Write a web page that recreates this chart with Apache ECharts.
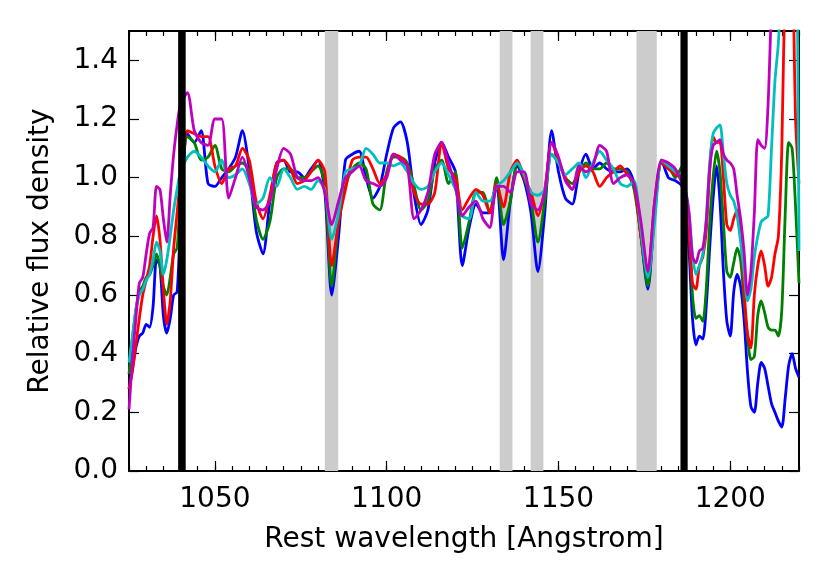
<!DOCTYPE html>
<html>
<head>
    <meta charset="utf-8">
    <style>
        html, body { margin: 0; padding: 0; background: #ffffff; }
        #chart { width: 830px; height: 581px; }
    </style>
    <script src="https://cdn.jsdelivr.net/npm/echarts@6.0.0/dist/echarts.min.js"></script>
</head>
<body>
    <div id="chart"></div>
    <script type="text/javascript">
        // rest wavelength grid (Angstrom)
        var wavelength = [
            1025, 1026, 1027, 1028, 1029, 1030, 1031, 1032, 1033, 1034, 1035, 1036, 1037, 1038, 1039, 1040,
            1042, 1044, 1046, 1048, 1050, 1052, 1054, 1056, 1058, 1060, 1062, 1064, 1066, 1068, 1070, 1072, 1074,
            1076, 1078, 1080, 1082, 1084, 1086, 1088, 1090, 1092, 1094, 1096, 1098, 1100, 1102, 1104, 1106, 1108,
            1110, 1112, 1114, 1116, 1118, 1120, 1122, 1124,
            1126, 1128, 1130, 1132, 1134, 1136, 1138, 1140, 1142, 1144, 1146, 1148, 1150, 1152, 1154, 1156, 1158,
            1160, 1162, 1164, 1166, 1168, 1170, 1172, 1174, 1176, 1178, 1180, 1182, 1184, 1186,
            1187, 1188, 1189, 1190, 1191, 1192, 1193, 1194, 1195, 1196, 1197, 1198, 1199, 1200, 1201, 1202, 1203,
            1204, 1205, 1206, 1207, 1208, 1209, 1210, 1211, 1212, 1213, 1214, 1215, 1216, 1217, 1218, 1219, 1220
        ];

        var fluxBlue = [
            0.28, 0.35, 0.42, 0.46, 0.47, 0.50, 0.49, 0.56, 0.72, 0.70, 0.53, 0.47, 0.52, 0.60, 0.61, 0.85,
            1.15, 1.12, 1.16, 0.98, 0.97, 1.00, 1.03, 1.07, 1.16, 1.03, 0.82, 0.74, 0.92, 1.05, 1.06, 1.02, 1.02,
            1.00, 1.03, 1.06, 0.95, 0.60, 0.80, 1.06, 1.08, 1.09, 1.00, 0.93, 0.97, 1.08, 1.17, 1.19, 1.12, 0.94,
            0.84, 0.89, 1.05, 1.12, 1.07, 1.02, 0.70, 0.83,
            0.91, 0.88, 0.88, 0.98, 0.72, 0.92, 1.04, 0.99, 0.88, 0.68, 0.88, 1.16, 1.02, 0.93, 0.91, 1.02, 1.08,
            1.03, 1.05, 1.03, 1.02, 1.02, 1.03, 0.98, 0.80, 0.62, 0.88, 1.06, 1.00, 0.99, 0.97,
            0.90, 0.75, 0.52, 0.43, 0.46, 0.45, 0.56, 0.76, 0.93, 1.04, 0.92, 0.68, 0.51, 0.46, 0.61, 0.67, 0.63,
            0.52, 0.34, 0.22, 0.20, 0.30, 0.37, 0.35, 0.29, 0.23, 0.20, 0.17, 0.15, 0.25, 0.36, 0.40, 0.35, 0.32
        ];

        var fluxGreen = [
            0.33, 0.45, 0.55, 0.61, 0.63, 0.66, 0.67, 0.70, 0.74, 0.70, 0.63, 0.60, 0.66, 0.74, 0.76, 0.95,
            1.14, 1.12, 1.06, 1.07, 1.11, 1.03, 1.02, 1.04, 1.05, 1.02, 0.86, 0.79, 0.85, 1.00, 1.03, 1.03, 1.00,
            1.00, 1.02, 1.04, 0.98, 0.63, 0.85, 0.97, 1.03, 1.05, 1.03, 0.91, 0.89, 1.02, 1.07, 1.07, 1.05, 0.97,
            0.89, 0.92, 1.03, 1.06, 0.98, 1.02, 0.76, 0.85,
            0.95, 0.95, 0.88, 1.00, 0.84, 0.92, 1.05, 1.00, 0.92, 0.78, 0.92, 1.08, 1.05, 1.00, 0.98, 1.02, 1.05,
            1.03, 1.03, 1.05, 1.03, 1.03, 1.02, 0.96, 0.80, 0.63, 0.90, 1.05, 1.04, 1.00, 1.04,
            0.95, 0.85, 0.60, 0.52, 0.53, 0.51, 0.62, 0.84, 1.00, 1.09, 1.02, 0.85, 0.68, 0.66, 0.71, 0.76, 0.72,
            0.58, 0.46, 0.38, 0.39, 0.53, 0.58, 0.54, 0.49, 0.48, 0.48, 0.46, 0.55, 0.88, 1.12, 1.10, 0.90, 0.64
        ];

        var fluxRed = [
            0.28, 0.34, 0.43, 0.52, 0.60, 0.65, 0.70, 0.80, 0.87, 0.79, 0.62, 0.50, 0.58, 0.76, 0.88, 1.00,
            1.16, 1.15, 1.14, 1.14, 1.04, 0.98, 1.03, 1.04, 1.10, 1.06, 0.92, 0.86, 0.94, 1.05, 1.06, 1.03, 0.98,
            0.99, 1.02, 1.06, 1.02, 0.70, 0.85, 0.96, 1.06, 1.07, 1.07, 1.03, 0.98, 1.01, 1.08, 1.07, 1.04, 0.95,
            0.91, 0.91, 0.95, 1.12, 1.03, 1.00, 0.89, 0.93,
            0.96, 0.94, 0.88, 0.98, 0.90, 1.02, 1.06, 1.00, 0.95, 0.87, 0.96, 1.12, 1.06, 1.00, 0.96, 1.02, 1.04,
            1.02, 0.97, 1.00, 1.02, 1.04, 1.01, 0.98, 0.80, 0.68, 0.92, 1.05, 1.03, 1.01, 1.00,
            0.95, 0.82, 0.64, 0.62, 0.70, 0.73, 0.82, 1.02, 1.14, 1.12, 1.12, 1.00, 0.84, 0.82, 0.86, 0.89, 0.82,
            0.62, 0.47, 0.42, 0.60, 0.70, 0.75, 0.70, 0.63, 0.66, 0.74, 0.80, 1.10, 1.70, 1.90, 1.80, 1.20, 0.98
        ];

        var fluxCyan = [
            0.37, 0.46, 0.55, 0.60, 0.62, 0.65, 0.67, 0.72, 0.78, 0.75, 0.67, 0.72, 0.80, 0.89, 0.96, 1.02,
            1.07, 1.09, 1.07, 1.04, 1.02, 1.06, 1.00, 1.01, 1.03, 0.98, 0.91, 0.93, 1.00, 0.97, 1.03, 1.00, 0.96,
            0.97, 0.96, 0.99, 0.96, 0.79, 0.88, 1.02, 1.03, 1.04, 1.10, 1.08, 1.05, 1.05, 1.04, 1.05, 1.02, 0.98,
            0.96, 0.97, 1.02, 1.05, 1.01, 0.96, 0.87, 0.86,
            0.95, 0.92, 0.92, 0.97, 0.99, 1.02, 1.05, 1.01, 0.95, 0.94, 0.96, 1.08, 1.05, 1.01, 1.03, 1.05, 1.00,
            1.05, 1.09, 1.06, 1.03, 0.98, 0.97, 0.99, 0.82, 0.66, 0.85, 1.06, 1.04, 1.02, 1.00,
            0.96, 0.88, 0.74, 0.67, 0.70, 0.74, 0.86, 1.05, 1.15, 1.17, 1.18, 1.08, 0.98, 0.94, 0.92, 0.87, 0.78,
            0.68, 0.58, 0.62, 0.73, 0.80, 0.85, 0.86, 0.87, 1.10, 1.33, 1.46, 1.70, 1.90, 1.95, 1.95, 1.95, 0.75
        ];

        var fluxMagenta = [
            0.21, 0.38, 0.52, 0.64, 0.66, 0.74, 0.81, 0.83, 0.97, 0.96, 0.86, 0.78, 0.94, 1.08, 1.18, 1.25,
            1.29, 1.16, 1.12, 1.11, 1.20, 1.20, 0.93, 1.00, 1.07, 1.00, 0.90, 0.89, 0.92, 1.03, 1.10, 1.08, 1.00,
            0.99, 0.99, 1.00, 0.95, 0.84, 0.92, 1.00, 1.02, 1.04, 0.99, 0.98, 0.97, 1.00, 1.08, 1.06, 1.04, 0.86,
            0.89, 0.95, 1.08, 1.12, 1.05, 0.97, 0.87, 0.90,
            0.92, 0.86, 0.83, 0.97, 0.97, 0.95, 1.02, 1.02, 0.91, 0.89, 0.95, 1.12, 1.07, 0.99, 0.96, 1.04, 1.02,
            1.04, 1.11, 1.09, 0.98, 1.00, 1.01, 0.98, 0.85, 0.68, 0.92, 1.06, 1.05, 1.03, 0.98,
            0.95, 0.88, 0.73, 0.71, 0.75, 0.76, 0.85, 1.03, 1.11, 1.12, 1.13, 1.08, 1.06, 1.05, 1.03, 0.94, 0.86,
            0.75, 0.60, 0.68, 0.88, 1.13, 1.11, 1.10, 1.25, 1.60, 1.95, 1.95, 1.95, 1.95, 1.95, 1.95, 1.95, 1.95
        ];

        // shaded wavelength windows [from, to]
        var grayBands = [[1082.0, 1085.9], [1132.9, 1136.6], [1141.9, 1145.6], [1172.7, 1178.6]];
        var blackBands = [[1039.3, 1041.5], [1185.5, 1187.6]];

        var xMajorTicks = [1050, 1100, 1150, 1200];
        var yTicks = [0.0, 0.2, 0.4, 0.6, 0.8, 1.0, 1.2, 1.4];

        var FONT = 'DejaVu Sans';
        var FSIZE = 28;

        function pairs(ys) {
            return wavelength.map(function (w, i) { return [w, ys[i]]; });
        }
        function bandData(list) {
            return list.map(function (b) { return [{ xAxis: b[0] }, { xAxis: b[1] }]; });
        }

        var gridBox = { left: 129, right: 31, top: 31, bottom: 110 };

        var majorX = function (pos, withLabel) {
            return {
                type: 'value', gridIndex: 0, position: pos, min: 1025, max: 1220,
                axisLine: { show: true, onZero: false, lineStyle: { color: '#000', width: 2 } },
                axisTick: { show: true, inside: true, length: 10, customValues: xMajorTicks,
                    lineStyle: { color: '#000', width: 1.2 } },
                axisLabel: { show: withLabel, customValues: xMajorTicks, margin: 15,
                    color: '#000', fontSize: FSIZE, fontFamily: FONT,
                    formatter: function (v) { return String(v); } },
                splitLine: { show: false }
            };
        };
        var minorX = function (pos) {
            return {
                type: 'value', gridIndex: 1, position: pos, min: 1025, max: 1220, interval: 5,
                axisLine: { show: false },
                axisTick: { show: true, inside: true, length: 5, lineStyle: { color: '#000', width: 1.2 } },
                axisLabel: { show: false },
                splitLine: { show: false }
            };
        };
        var majorY = function (pos, withLabel) {
            return {
                type: 'value', gridIndex: 0, position: pos, min: 0, max: 1.5,
                axisLine: { show: true, onZero: false, lineStyle: { color: '#000', width: 2 } },
                axisTick: { show: true, inside: true, length: 10, customValues: yTicks,
                    lineStyle: { color: '#000', width: 1.2 } },
                axisLabel: { show: withLabel, customValues: yTicks, margin: 11,
                    color: '#000', fontSize: FSIZE, fontFamily: FONT,
                    formatter: function (v) { return v.toFixed(1); } },
                splitLine: { show: false }
            };
        };

        var xb = majorX('bottom', true);
        xb.name = 'Rest wavelength [Angstrom]';
        xb.nameLocation = 'middle';
        xb.nameGap = 55;
        xb.nameTextStyle = { color: '#000', fontSize: FSIZE, fontFamily: FONT };

        var yl = majorY('left', true);
        yl.name = 'Relative flux density';
        yl.nameLocation = 'middle';
        yl.nameGap = 74;
        yl.nameTextStyle = { color: '#000', fontSize: FSIZE, fontFamily: FONT };

        var lineSeries = [
            ['blue', fluxBlue, '#0000ff'],
            ['green', fluxGreen, '#008000'],
            ['red', fluxRed, '#ff0000'],
            ['cyan', fluxCyan, '#00bfbf'],
            ['magenta', fluxMagenta, '#bf00bf']
        ].map(function (s) {
            return {
                name: s[0], type: 'line', xAxisIndex: 0, yAxisIndex: 0,
                data: pairs(s[1]), showSymbol: false, symbol: 'none', smooth: 0.25,
                clip: true, z: 3,
                lineStyle: { color: s[2], width: 2.8, join: 'round' },
                itemStyle: { color: s[2] }
            };
        });

        var option = {
            animation: false,
            backgroundColor: '#ffffff',
            grid: [
                Object.assign({ containLabel: false, outerBoundsMode: 'none' }, gridBox),
                Object.assign({ containLabel: false, outerBoundsMode: 'none' }, gridBox)
            ],
            xAxis: [majorX('top', false), xb, minorX('bottom'), minorX('top')],
            yAxis: [yl, majorY('right', false),
                { type: 'value', gridIndex: 1, show: false, min: 0, max: 1 }],
            series: [
                {
                    type: 'line', xAxisIndex: 0, yAxisIndex: 0, data: [], silent: true,
                    markArea: { silent: true, z: 1, itemStyle: { color: '#cccccc' }, label: { show: false },
                        data: bandData(grayBands) }
                }
            ].concat(lineSeries).concat([
                {
                    type: 'line', xAxisIndex: 0, yAxisIndex: 0, data: [], silent: true,
                    markArea: { silent: true, z: 10, itemStyle: { color: '#000000' }, label: { show: false },
                        data: bandData(blackBands) }
                }
            ])
        };

        var myChart = echarts.init(document.getElementById('chart'));
        myChart.setOption(option);
    </script>
</body>
</html>
